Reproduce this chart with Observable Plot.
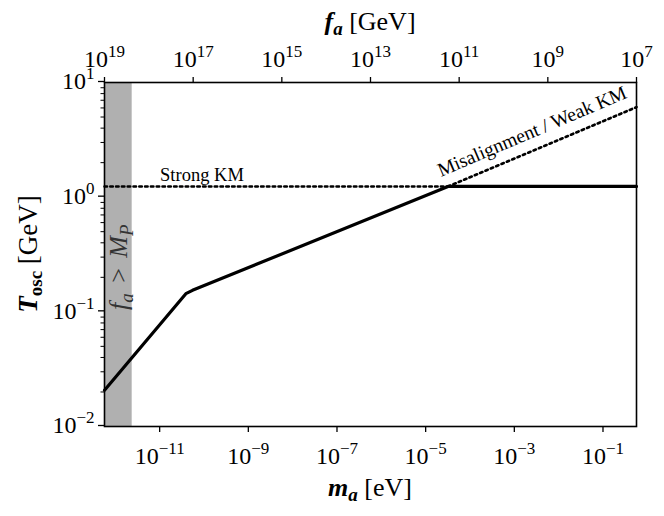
<!DOCTYPE html>
<html>
<head>
<meta charset="utf-8">
<script src="https://cdn.jsdelivr.net/npm/d3@7"></script>
<script src="https://cdn.jsdelivr.net/npm/@observablehq/plot@0.6"></script>
<style>
  html, body { margin: 0; padding: 0; background: white; }
</style>
</head>
<body>
<div id="chart"></div>
<script>
// ---- data ----
const xDomain = [5.7e-13, 0.57];          // m_a [eV]
const yDomain = [0.01, 10];               // T_osc [GeV]
const bottomTicks = [1e-11, 1e-9, 1e-7, 1e-5, 1e-3, 1e-1];
const topTicksF = [1e19, 1e17, 1e15, 1e13, 1e11, 1e9, 1e7]; // f_a [GeV]
const yTicks = [0.01, 0.1, 1, 10];
const bandM = [5.7e-13, 2.4e-12];          // f_a > M_P region

const solidM = [5.7e-13, 3.9e-11, 5.5e-11, 3.2e-5, 0.57];
const solidT = [0.0207, 0.144, 0.154, 1.24, 1.24];
const strongM = [5.7e-13, 3.2e-5];
const strongT = [1.24, 1.24];
const misM = [3.2e-5, 0.57];
const misT = [1.24, 6.1];

const labelNames = ["Strong KM", "Misalignment / Weak KM", "FAMP"];
const labelM = [9e-11, 2.85e-3, 1.17e-12];
const labelT = [1.24, 2.57, 0.245];

// m_a [eV] = 5.7e-6 * (1e12 GeV / f_a)
const mFromF = f => 5.7e6 / f;
const fFromM = m => 5.7e6 / m;

const yMinor = [];
for (let e = -2; e < 1; e++) for (let k = 2; k <= 9; k++) yMinor.push(k * Math.pow(10, e));

const pow = v => "10^" + Math.round(Math.log10(v));

const solid = solidM.map((m, i) => ({m, T: solidT[i]}));
const strong = strongM.map((m, i) => ({m, T: strongT[i]}));
const mis = misM.map((m, i) => ({m, T: misT[i]}));
const labels = labelNames.map((n, i) => ({n, m: labelM[i], T: labelT[i]}));

const font = "'Liberation Serif', 'DejaVu Serif', serif";
const dots = "2.5,3.3";

const chart = Plot.plot({
  width: 664,
  height: 516,
  marginLeft: 104,
  marginRight: 28,
  marginTop: 82,
  marginBottom: 90,
  x: {type: "log", domain: xDomain},
  y: {type: "log", domain: yDomain},
  style: {fontFamily: font, fontSize: "24px", color: "black", background: "white"},
  marks: [
    Plot.rect([bandM], {x1: d => d[0], x2: d => d[1], y1: yDomain[0], y2: yDomain[1], fill: "#b0b0b0"}),
    Plot.line(strong, {x: "m", y: "T", stroke: "black", strokeWidth: 2.6, strokeDasharray: dots}),
    Plot.line(mis, {x: "m", y: "T", stroke: "black", strokeWidth: 2.6, strokeDasharray: dots}),
    Plot.line(solid, {x: "m", y: "T", stroke: "black", strokeWidth: 3.2}),
    Plot.frame({stroke: "black", strokeWidth: 1.6}),
    Plot.axisX({ticks: bottomTicks, anchor: "bottom", tickSize: 6, tickPadding: 14, tickFormat: pow, label: null, fontSize: 24, strokeWidth: 1.3}),
    Plot.axisX({ticks: topTicksF.map(mFromF), anchor: "top", tickSize: 6, tickPadding: 10, tickFormat: d => pow(fFromM(d)), label: null, fontSize: 24, strokeWidth: 1.3}),
    Plot.axisY({ticks: yTicks, anchor: "left", tickSize: 6, tickPadding: 4, tickFormat: pow, label: null, fontSize: 24, dy: -1, strokeWidth: 1.3}),
    Plot.axisY({ticks: yMinor, anchor: "left", tickSize: 3.5, tickFormat: () => "", label: null, strokeWidth: 1}),
    Plot.text([labels[0]], {x: "m", y: "T", text: "n", textAnchor: "middle", lineAnchor: "bottom", dy: -5, fontSize: 18.5, fill: "black"}),
    Plot.text([labels[1]], {x: "m", y: "T", text: "n", textAnchor: "middle", lineAnchor: "bottom", dy: -13, dx: 0, rotate: -23, fontSize: 19.5, fill: "black"}),
    Plot.text([labels[2]], {x: "m", y: "T", text: "n", textAnchor: "middle", lineAnchor: "middle", rotate: -90, fontSize: 26, fill: "#333"})
  ]
});

const svg = d3.select(chart);
// superscript tick labels and rich label text
svg.selectAll("text").each(function() {
  const t = this.textContent;
  const mt = /^10\^(-?\d+)$/.exec(t);
  if (mt) {
    const sel = d3.select(this);
    sel.text("10");
    sel.append("tspan").attr("dy", "-10px").attr("font-size", "17px").text(mt[1].replace("-", "\u2212"));
  } else if (t === "FAMP") {
    const sel = d3.select(this);
    sel.text("");
    sel.append("tspan").attr("font-style", "italic").text("f");
    sel.append("tspan").attr("font-style", "italic").attr("font-size", "19px").attr("dy", "6px").text("a");
    sel.append("tspan").attr("dy", "-6px").attr("dx", "4px").text("\u00a0>\u00a0");
    sel.append("tspan").attr("font-style", "italic").attr("dx", "4px").text("M");
    sel.append("tspan").attr("font-style", "italic").attr("font-size", "19px").attr("dy", "6px").text("P");
  }
});

// axis titles
const g = svg.append("g").attr("font-family", font).attr("fill", "black");
const cx = (104 + 636) / 2;
const cy = (82 + 426) / 2;

const xl = g.append("text").attr("x", cx).attr("y", 496).attr("text-anchor", "middle").attr("font-size", 26);
xl.append("tspan").attr("font-weight", "bold").attr("font-style", "italic").text("m");
xl.append("tspan").attr("font-weight", "bold").attr("font-style", "italic").attr("font-size", 19).attr("dy", 5).text("a");
xl.append("tspan").attr("dy", -5).text("\u00a0[eV]");

const tl = g.append("text").attr("x", cx).attr("y", 30).attr("text-anchor", "middle").attr("font-size", 26);
tl.append("tspan").attr("font-weight", "bold").attr("font-style", "italic").text("f");
tl.append("tspan").attr("font-weight", "bold").attr("font-style", "italic").attr("font-size", 19).attr("dy", 5).text("a");
tl.append("tspan").attr("dy", -5).text("\u00a0[GeV]");

const yl = g.append("text").attr("transform", `translate(37,${cy}) rotate(-90)`).attr("text-anchor", "middle").attr("font-size", 27);
yl.append("tspan").attr("font-weight", "bold").attr("font-style", "italic").text("T");
yl.append("tspan").attr("font-weight", "bold").attr("font-size", 19).attr("dy", 5).text("osc");
yl.append("tspan").attr("dy", -5).text("\u00a0[GeV]");

document.getElementById("chart").appendChild(chart);
</script>
</body>
</html>
